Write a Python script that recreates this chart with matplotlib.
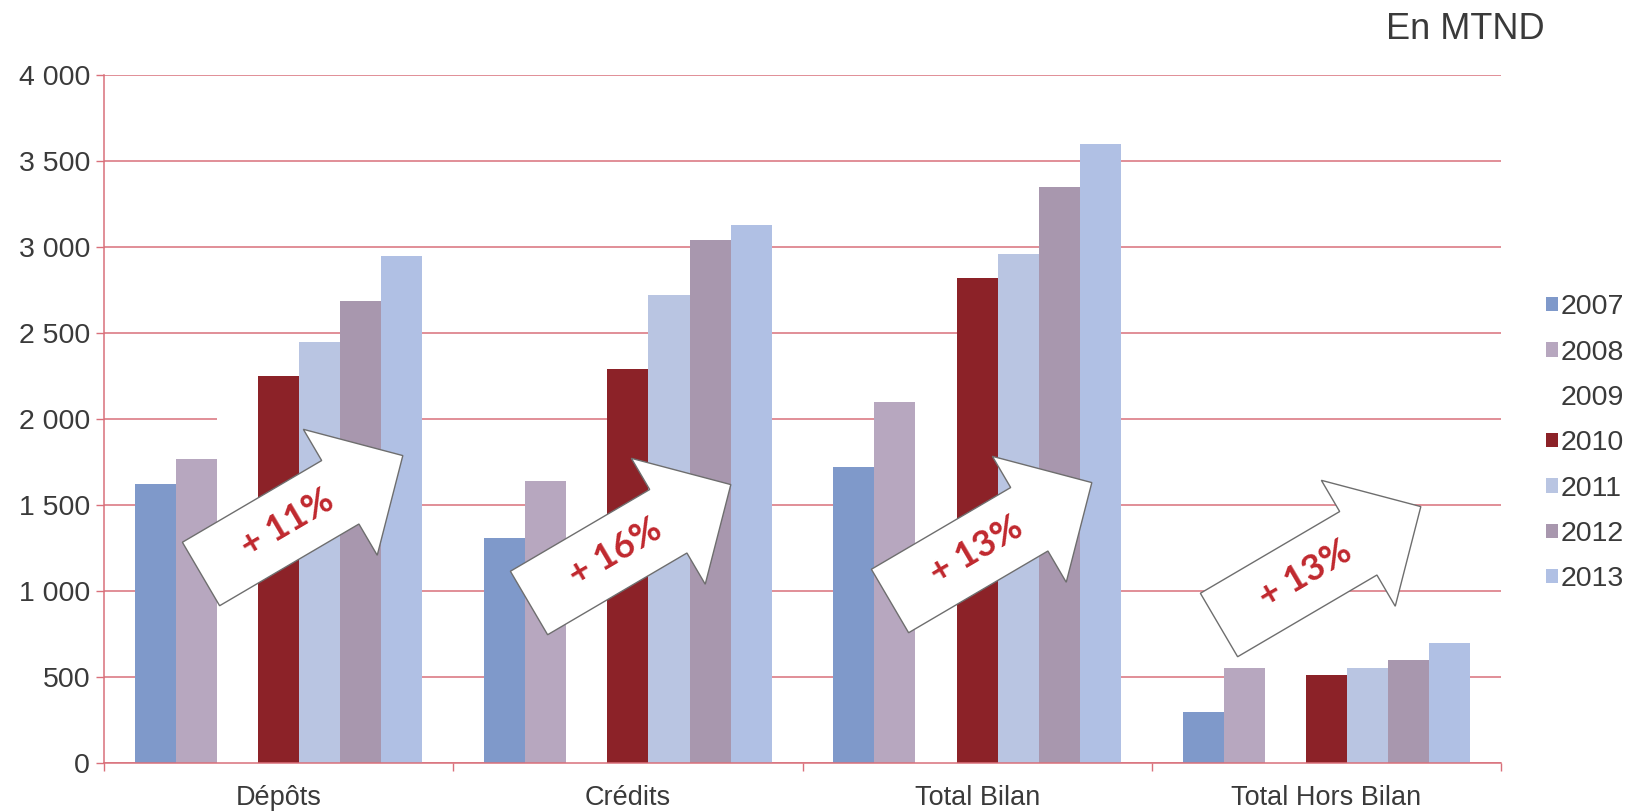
import numpy as np
import matplotlib.pyplot as plt
from matplotlib.patches import Patch, Polygon
from matplotlib.ticker import FuncFormatter

# data (MTND)
categories = ['Dépôts', 'Crédits', 'Total Bilan', 'Total Hors Bilan']
years = ['2007', '2008', '2009', '2010', '2011', '2012', '2013']
v2007 = [1620, 1310, 1720, 295]
v2008 = [1770, 1640, 2100, 555]
v2009 = [2050, 1850, 2300, 520]   # white series in the original
v2010 = [2250, 2290, 2820, 510]
v2011 = [2450, 2720, 2960, 550]
v2012 = [2685, 3040, 3350, 600]
v2013 = [2950, 3130, 3600, 700]
growth = ['+ 11%', '+ 16%', '+ 13%', '+ 13%']

series = [v2007, v2008, v2009, v2010, v2011, v2012, v2013]
colors = ['#7f99ca', '#b7a7bf', '#ffffff', '#8c2228', '#b9c5e2', '#a897ae', '#b0c0e4']

W, H = 1634, 811
fig = plt.figure(figsize=(W / 100, H / 100), dpi=100)
ax = fig.add_axes([104 / W, 1 - 763 / H, 1397 / W, 688 / H])

red = '#d9707a'
txt = '#3a3a3a'
font = 'Liberation Sans'

x = np.arange(len(categories))
bw = 1 / 8.5
for i, (vals, c) in enumerate(zip(series, colors)):
    ax.bar(x + (i - 3) * bw, vals, width=bw, color=c, linewidth=0, zorder=2)

ax.set_xlim(-0.5, 3.5)
ax.set_ylim(0, 4000)
ax.set_yticks(np.arange(0, 4001, 500))
ax.yaxis.set_major_formatter(FuncFormatter(lambda v, p: f'{int(v):,}'.replace(',', ' ')))
ax.grid(axis='y', color=red, linewidth=1.1)
ax.set_axisbelow(True)

ax.set_xticks(x)
ax.set_xticklabels(categories)
ax.set_xticks(np.arange(-0.5, 3.6, 1), minor=True)
ax.tick_params(axis='x', which='major', length=0, pad=15.8)
ax.tick_params(axis='x', which='minor', length=6, color=red, width=1)
ax.tick_params(axis='y', length=6, color=red, width=1, pad=4)
for lab in ax.get_xticklabels():
    lab.set_fontfamily(font)
    lab.set_fontsize(19.5)
    lab.set_color(txt)
for lab in ax.get_yticklabels():
    lab.set_fontfamily(font)
    lab.set_fontsize(20.5)
    lab.set_color(txt)

for s in ['top', 'right']:
    ax.spines[s].set_visible(False)
for s in ['left', 'bottom']:
    ax.spines[s].set_color(red)
    ax.spines[s].set_linewidth(1.1)

# legend
handles = [Patch(facecolor=c, edgecolor='none') for c in colors]
fig.legend(handles, years, loc='upper left', bbox_to_anchor=(1532 / W, 1 - 280 / H),
           frameon=False, prop={'family': font, 'size': 20.5},
           handlelength=0.4, handleheight=0.4, handletextpad=0.12,
           labelspacing=0.68, labelcolor=txt, borderpad=0)

fig.text(1386 / W, 1 - 39 / H, 'En MTND', fontsize=26, family=font, color=txt,
         ha='left', va='baseline')

# growth arrows (figure pixel coordinates, y from top)
tails = [(201, 574), (529, 603), (890, 601), (1219, 625)]
ang = 30.4
theta = np.deg2rad(ang)
d = np.array([np.cos(theta), np.sin(theta)])
n = np.array([-np.sin(theta), np.cos(theta)])
L, hl, bwid, hw = 234, 72.5, 36.8, 73
shape = [(0, -bwid), (L - hl, -bwid), (L - hl, -hw), (L, 0),
         (L - hl, hw), (L - hl, bwid), (0, bwid)]
for (tx, ty), label in zip(tails, growth):
    c0 = np.array([tx, H - ty])
    pts = [c0 + u * d + v * n for u, v in shape]
    pts = [(p[0] / W, p[1] / H) for p in pts]
    fig.add_artist(Polygon(pts, closed=True, facecolor='white', edgecolor='#6e6e6e',
                           linewidth=1.0, transform=fig.transFigure, zorder=5))
    cpos = c0 + 100 * d
    fig.text(cpos[0] / W, cpos[1] / H, label, rotation=ang, rotation_mode='anchor',
             ha='center', va='center', fontsize=26, fontweight='bold', family='Lato',
             color='#c0282e', zorder=6)

fig.savefig('out.png', dpi=100)
